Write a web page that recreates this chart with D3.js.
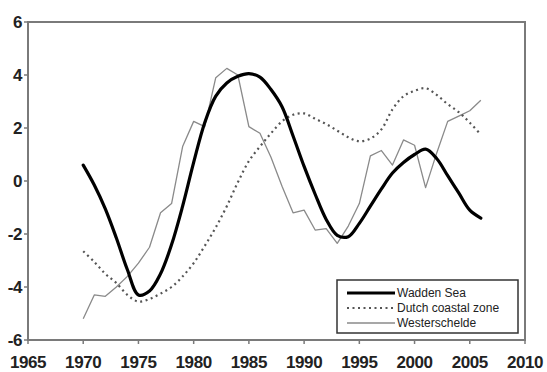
<!DOCTYPE html>
<html>
<head>
<meta charset="utf-8">
<title>Wadden Sea / Dutch coastal zone / Westerschelde</title>
<script src="https://cdn.jsdelivr.net/npm/d3@7"></script>
<style>
body {
  margin: 0;
  background: #fff;
}
svg text {
  font-family: "Liberation Sans", Arial, sans-serif;
}
.tick-label {
  font-size: 17px;
  font-weight: bold;
  fill: #222;
  letter-spacing: -0.4px;
}
.legend text {
  font-size: 12px;
  fill: #222;
}
</style>
</head>
<body>
<div class="target"></div>
<script>
// annual values
var years = d3.range(1970, 2007);

var waddenSea = [0.6, -0.15, -1.05, -2.15, -3.35, -4.3, -4.15, -3.5, -2.4, -0.95,
  0.7, 2.2, 3.2, 3.7, 3.95, 4.05, 3.92, 3.45, 2.8, 1.7,
  0.55, -0.5, -1.45, -2.05, -2.1, -1.6, -0.95, -0.3, 0.3, 0.7,
  1.0, 1.2, 0.85, 0.2, -0.45, -1.1, -1.4];

var dutchCoastal = [-2.65, -3.05, -3.5, -3.85, -4.3, -4.55, -4.45, -4.25, -4.0, -3.6,
  -3.1, -2.45, -1.75, -0.95, -0.05, 0.75, 1.3, 1.8, 2.25, 2.5,
  2.55, 2.35, 2.15, 1.9, 1.65, 1.5, 1.6, 1.95, 2.7, 3.2,
  3.4, 3.5, 3.25, 2.9, 2.6, 2.2, 1.75];

var westerschelde = [-5.2, -4.3, -4.35, -4.0, -3.6, -3.1, -2.5, -1.2, -0.85, 1.3,
  2.25, 2.05, 3.9, 4.25, 4.0, 2.05, 1.8, 0.9, -0.2, -1.2,
  -1.1, -1.85, -1.8, -2.35, -1.7, -0.85, 0.95, 1.15, 0.6, 1.55,
  1.35, -0.25, 1.05, 2.25, 2.45, 2.65, 3.05];

var seriesNames = ["Wadden Sea", "Dutch coastal zone", "Westerschelde"];
var xTicks = d3.range(1965, 2011, 5);
var yTicks = [-6, -4, -2, 0, 2, 4, 6];

drawChart('.target');

function drawChart(target) {
  var W = 547, H = 372;
  var margin = {top: 22, right: 22, bottom: 32, left: 28},
    width = W - margin.left - margin.right,
    height = H - margin.top - margin.bottom;

  var svg = d3.select(target).append("svg")
    .attr("width", W)
    .attr("height", H);

  var g = svg.append("g")
    .attr("transform", "translate(" + margin.left + "," + margin.top + ")");

  var x = d3.scaleLinear().domain([1965, 2010]).range([0, width]);
  var y = d3.scaleLinear().domain([-6, 6]).range([height, 0]);

  // frame
  g.append("rect")
    .attr("width", width)
    .attr("height", height)
    .attr("fill", "none")
    .attr("stroke", "#7a7a7a")
    .attr("stroke-width", 2);

  // ticks
  g.selectAll(".xt").data(xTicks).enter().append("line")
    .attr("x1", function(d){ return x(d); })
    .attr("x2", function(d){ return x(d); })
    .attr("y1", height).attr("y2", height + 4)
    .attr("stroke", "#7a7a7a").attr("stroke-width", 1.5);

  g.selectAll(".yt").data(yTicks).enter().append("line")
    .attr("x1", -4).attr("x2", 0)
    .attr("y1", function(d){ return y(d); })
    .attr("y2", function(d){ return y(d); })
    .attr("stroke", "#7a7a7a").attr("stroke-width", 1.5);

  g.selectAll(".xl").data(xTicks).enter().append("text")
    .attr("class", "tick-label")
    .attr("x", function(d){ return x(d); })
    .attr("y", height + 28)
    .attr("text-anchor", "middle")
    .text(function(d){ return d; });

  g.selectAll(".yl").data(yTicks).enter().append("text")
    .attr("class", "tick-label")
    .attr("x", -6)
    .attr("y", function(d){ return y(d) + 6; })
    .attr("text-anchor", "end")
    .text(function(d){ return d; });

  var line = d3.line()
    .x(function(d, i){ return x(years[i]); })
    .y(function(d){ return y(d); });

  var smooth = d3.line()
    .curve(d3.curveCatmullRom.alpha(0.5))
    .x(function(d, i){ return x(years[i]); })
    .y(function(d){ return y(d); });

  var styles = [
    {stroke: "#000", width: 3.2, dash: null},
    {stroke: "#555", width: 2.2, dash: "2,3.5"},
    {stroke: "#8a8a8a", width: 1.3, dash: null}
  ];

  g.append("path").datum(westerschelde)
    .attr("d", line)
    .attr("fill", "none")
    .attr("stroke", styles[2].stroke)
    .attr("stroke-width", styles[2].width)
    .attr("stroke-linejoin", "round");

  g.append("path").datum(dutchCoastal)
    .attr("d", smooth)
    .attr("fill", "none")
    .attr("stroke", styles[1].stroke)
    .attr("stroke-width", styles[1].width)
    .attr("stroke-dasharray", styles[1].dash);

  g.append("path").datum(waddenSea)
    .attr("d", smooth)
    .attr("fill", "none")
    .attr("stroke", styles[0].stroke)
    .attr("stroke-width", styles[0].width)
    .attr("stroke-linecap", "round");

  // legend
  var legend = svg.append("g")
    .attr("class", "legend")
    .attr("transform", "translate(337,280)");

  legend.append("rect")
    .attr("width", 181)
    .attr("height", 53)
    .attr("fill", "#fff")
    .attr("stroke", "#333")
    .attr("stroke-width", 1.5);

  seriesNames.forEach(function(name, i) {
    var ly = 13 + i * 15;
    legend.append("line")
      .attr("x1", 10).attr("x2", 58)
      .attr("y1", ly).attr("y2", ly)
      .attr("stroke", styles[i].stroke)
      .attr("stroke-width", styles[i].width)
      .attr("stroke-dasharray", styles[i].dash);
    legend.append("text")
      .attr("x", 60)
      .attr("y", ly + 4)
      .text(name);
  });
}
</script>
</body>
</html>
